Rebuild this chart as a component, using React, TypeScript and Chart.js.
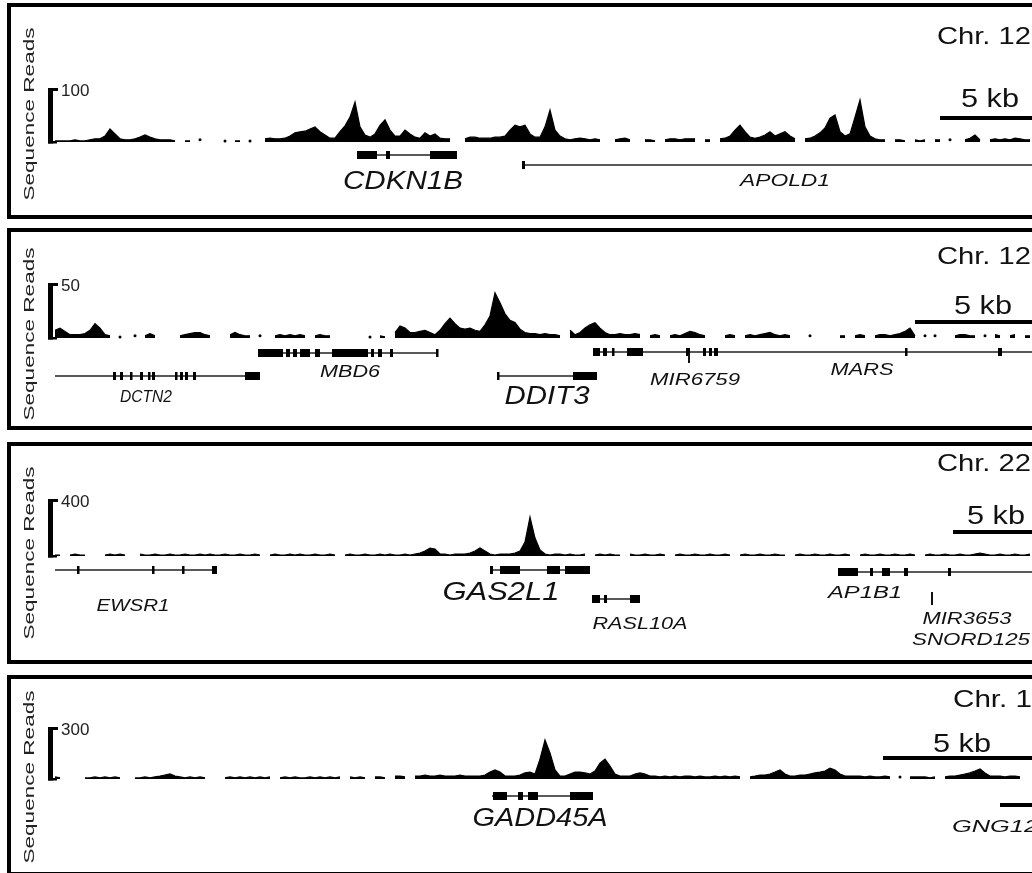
import React, { useEffect, useRef } from 'react';
import { Chart, registerables } from 'chart.js';
Chart.register(...registerables);

const FONT = '"Liberation Sans", Arial, Helvetica, sans-serif';
const PANEL_LEFT = 7;
const PANEL_WIDTH = 1100;
const BORDER = 4;
const PLOT_LEFT = 55; // page x of genomic position 0
const PLOT_RIGHT = 1055; // page x of genomic position POS_MAX
const POS_MAX = 200;

// ---------- coverage (sequence reads, one value per genomic bin) ----------
const COV_CDKN1B: (number | null)[] = [
  2, 2, 2, 2, 4, 2, 2, 4, 6, 6,
  11, 24, 15, 6, 4, 4, 6, 9, 13, 9,
  6, 4, 4, 4, 2, null, 2, 2, null, 4,
  null, null, null, null, 2, null, 2, 2, null, 2,
  null, null, 6, 7, 6, 6, 7, 11, 17, 19,
  20, 24, 28, 19, 13, 7, 7, 19, 30, 46,
  74, 28, 13, 9, 15, 31, 41, 22, 11, 11,
  22, 15, 9, 7, 17, 11, 15, 7, 6, 6,
  null, null, 6, 9, 9, 7, 7, 7, 9, 9,
  11, 22, 31, 28, 31, 15, 9, 9, 28, 59,
  22, 11, 6, 4, 6, 7, 6, 4, 6, 4,
  null, null, 4, 6, 7, 4, null, null, 4, 4,
  2, null, 4, 6, 6, 4, 6, 6, 6, null,
  4, 4, null, 6, 7, 11, 22, 31, 19, 9,
  7, 9, 13, 19, 11, 15, 19, 11, 6, null,
  6, 7, 11, 17, 26, 44, 50, 19, 11, 15,
  46, 78, 28, 11, 6, 4, 4, null, 4, 4,
  2, null, 4, 2, 4, null, 4, 4, null, 4,
  null, null, 4, 7, 13, 4, null, 4, 6, 4,
  6, 4, 7, 6, 4, 4,
];

const COV_DDIT3: (number | null)[] = [
  7, 9, 6, 3, 3, 3, 4, 7, 13, 9,
  3, 2, null, 1, null, null, 2, null, 2, 4,
  2, null, null, null, null, 2, 3, 4, 5, 5,
  3, 2, null, null, null, 3, 5, 3, 2, 2,
  null, 2, null, null, 2, 3, 2, 3, 2, 3,
  2, null, 2, 3, 2, 2, null, null, null, null,
  null, null, null, 1, null, 2, 1, null, 5, 11,
  9, 5, 5, 6, 7, 5, 3, 7, 13, 18,
  13, 9, 8, 9, 7, 6, 12, 20, 41, 32,
  22, 16, 14, 8, 5, 4, 4, 3, 4, 3,
  3, 2, null, 7, 3, 5, 9, 12, 14, 9,
  5, 3, 3, 4, 3, 3, 4, 3, null, 2,
  3, 2, null, 2, 3, 2, 4, 6, 5, 3,
  2, null, null, null, 2, 3, 2, null, 2, 3,
  2, 3, 4, 5, 3, 2, 3, 2, null, null,
  null, 2, null, null, null, null, null, 2, 2, null,
  2, 3, 2, null, 2, 3, 3, 2, 3, 4,
  6, 9, 2, null, 2, null, 2, null, null, null,
  2, 3, 3, 2, 2, null, 2, null, 3, 2,
  null, 2, 3, null, 2, 2,
];

const COV_GAS2L1: (number | null)[] = [
  7, 7, null, 7, 14, 7, 7, null, null, null,
  7, 14, 7, 14, 7, null, null, 14, 7, 7,
  14, 7, 7, 14, 7, 7, 14, 7, 7, 14,
  7, 14, 7, 7, 14, 7, 7, 14, 7, 7,
  14, 7, null, 7, 14, 7, 7, 14, 7, 14,
  7, 7, 14, 7, 7, 14, 7, null, 7, 14,
  7, 7, 14, 7, 7, 14, 7, 14, 7, 7,
  14, 7, 14, 21, 35, 56, 49, 14, 14, 7,
  14, 14, 14, 21, 35, 56, 35, 14, 7, 14,
  14, 14, 21, 35, 98, 273, 126, 42, 14, 7,
  14, 14, 7, 14, 7, 7, 14, null, 7, 14,
  7, 14, 7, 7, null, 14, 7, 7, 14, 7,
  7, 14, 7, null, 7, 14, 7, 7, 14, 7,
  7, 14, 7, 7, 14, 7, null, 7, 14, 7,
  7, 14, 7, 7, 14, 7, 7, null, 7, 14,
  7, 7, 14, 7, 7, 14, 7, 7, 14, 7,
  null, 7, 14, 7, 7, 14, 7, 7, 14, 7,
  7, 14, 7, null, 7, 14, 7, 7, 14, 7,
  7, 14, 7, 7, 14, 21, 14, 7, 7, 14,
  7, 7, 14, 7, 7, 14,
];

const COV_GADD45A: (number | null)[] = [
  12, 6, null, null, null, null, 6, 6, 12, 6,
  12, 6, 12, 6, null, null, 6, 6, 12, 6,
  12, 17, 23, 29, 17, 12, 6, 12, 6, 12,
  6, null, null, null, 6, 12, 6, 12, 6, 12,
  6, 12, 6, 12, null, 6, 12, 6, 12, 6,
  6, 12, 6, 12, 6, 12, 6, 12, null, 12,
  6, 12, 6, null, 12, 12, 6, null, 17, 17,
  12, null, 17, 17, 23, 17, 17, 23, 17, 17,
  17, 23, 17, 17, 17, 17, 23, 40, 52, 40,
  17, 17, 17, 23, 35, 40, 29, 115, 225, 150,
  52, 17, 17, 29, 40, 40, 35, 29, 46, 92,
  115, 75, 29, 17, 17, 17, 29, 35, 29, 17,
  17, 12, 17, 12, 17, 12, 17, 17, 12, 17,
  12, 12, 17, 12, 17, 12, 17, 12, null, 12,
  17, 23, 23, 29, 40, 52, 29, 17, 17, 23,
  23, 29, 35, 40, 46, 63, 52, 29, 17, 17,
  17, 17, 12, 17, 12, 12, 17, 12, null, 12,
  null, 12, 12, 12, 12, 6, 12, null, 12, 17,
  17, 23, 29, 35, 46, 58, 35, 17, 17, 17,
  12, 17, 17, 12, null, null,
];

// ---------- gene models (genomic positions, same units as coverage bins) ----------
type Gene = { name: string; start: number; end: number; exons: number[][]; tick?: boolean; thin?: boolean };

const GENES_CDKN1B: Gene[] = [
  { name: 'CDKN1B', start: 60.4, end: 80.4, exons: [[60.4, 64.4], [66.2, 67], [75, 80.4]] },
  { name: 'APOLD1', start: 93.6, end: 209, exons: [[93.4, 94]] },
];
const GENES_DDIT3: Gene[] = [
  { name: 'DCTN2', start: 0, end: 41, exons: [[11.6, 12.2], [13, 13.6], [15, 15.4], [17, 17.6], [18.6, 19], [19.4, 20], [24, 24.4], [25, 25.6], [26, 26.6], [27.6, 28.2], [38, 41]] },
  { name: 'MBD6', start: 40.6, end: 76.6, exons: [[40.6, 45.6], [46.2, 47], [47.6, 48.4], [49, 51], [52, 53], [55.4, 62.6], [63.2, 63.8], [64.6, 65.4], [67, 67.6], [76.2, 76.6]] },
  { name: 'DDIT3', start: 88.6, end: 108.4, exons: [[88.4, 88.8], [103.6, 108.4]] },
  { name: 'MARS', start: 107.6, end: 209, exons: [[107.6, 109], [109.6, 110.4], [111.4, 111.8], [114.4, 117.6], [126.2, 127], [129.6, 130.2], [130.8, 131.4], [131.8, 132.6], [170, 170.4], [188.6, 189.4]] },
  { name: 'MIR6759', start: 126.8, end: 126.8, exons: [], tick: true },
];
const GENES_GAS2L1: Gene[] = [
  { name: 'EWSR1', start: 0, end: 32.4, exons: [[4.4, 4.8], [19.4, 19.8], [25.4, 25.8], [31.4, 32.4]] },
  { name: 'GAS2L1', start: 87, end: 107, exons: [[87, 87.6], [89, 93], [98.4, 101], [102, 107]] },
  { name: 'RASL10A', start: 107.4, end: 117, exons: [[107.4, 109], [109.8, 110.4], [115, 117]] },
  { name: 'AP1B1', start: 156.6, end: 209, exons: [[156.6, 160.6], [163, 163.6], [165.4, 167], [169.8, 170.6], [178.6, 179.2]] },
  { name: 'MIR3653', start: 175.4, end: 175.4, exons: [], tick: true },
  { name: 'SNORD125', start: 175.4, end: 175.4, exons: [], tick: true },
];
const GENES_GADD45A: Gene[] = [
  { name: 'GADD45A', start: 87.4, end: 107.6, exons: [[87.6, 90.4], [92.6, 93.6], [94.6, 96.6], [103, 107.6]] },
  { name: 'GNG12', start: 189, end: 209, exons: [[189, 209]], thin: true },
];

// ---------- layout of gene rows / labels (px below baseline, label centre in positions) ----------
type GeneLayout = { row: number; row2?: number; labelDy: number; labelX: number; labelW: number; big?: boolean };
const LAYOUT_CDKN1B: Record<string, GeneLayout> = {
  CDKN1B: { row: 13, labelDy: 40, labelX: 69.6, labelW: 120, big: true },
  APOLD1: { row: 23, labelDy: 39, labelX: 146, labelW: 90 },
};
const LAYOUT_DDIT3: Record<string, GeneLayout> = {
  DCTN2: { row: 38, labelDy: 59, labelX: 18.2, labelW: 52 },
  MBD6: { row: 15, labelDy: 34, labelX: 59, labelW: 60 },
  DDIT3: { row: 38, labelDy: 59, labelX: 98.4, labelW: 85, big: true },
  MARS: { row: 14, labelDy: 32, labelX: 161.4, labelW: 63 },
  MIR6759: { row: 16, row2: 25, labelDy: 42, labelX: 128, labelW: 90 },
};
const LAYOUT_GAS2L1: Record<string, GeneLayout> = {
  EWSR1: { row: 14, labelDy: 50, labelX: 15.6, labelW: 73 },
  GAS2L1: { row: 14, labelDy: 37, labelX: 89.2, labelW: 117, big: true },
  RASL10A: { row: 43, labelDy: 68, labelX: 117, labelW: 95 },
  AP1B1: { row: 16, labelDy: 37, labelX: 162, labelW: 74 },
  MIR3653: { row: 36, row2: 49, labelDy: 63, labelX: 182.4, labelW: 89 },
  SNORD125: { row: 36, row2: 49, labelDy: 84, labelX: 183.2, labelW: 118 },
};
const LAYOUT_GADD45A: Record<string, GeneLayout> = {
  GADD45A: { row: 17, labelDy: 40, labelX: 97, labelW: 135, big: true },
  GNG12: { row: 26, labelDy: 48, labelX: 188, labelW: 86 },
};

// 5 kb scale bars (genomic positions)
const BAR_CDKN1B = [177, 197];
const BAR_DDIT3 = [172, 199.2];
const BAR_GAS2L1 = [179.6, 196.8];
const BAR_GADD45A = [165.6, 197.2];

type PanelCfg = {
  top: number; height: number; ymax: number; bracketTop: number; baseline: number;
  coverage: (number | null)[]; genes: Gene[]; layout: Record<string, GeneLayout>;
  chr: string; chrX: number; chrY: number; chrW: number;
  bar: number[]; barY: number; kbY: number; seqY: number;
};

const PANELS: PanelCfg[] = [
  { top: 3, height: 216, ymax: 100, bracketTop: 88, baseline: 142, coverage: COV_CDKN1B, genes: GENES_CDKN1B, layout: LAYOUT_CDKN1B, chr: 'Chr. 12', chrX: 937, chrY: 37, chrW: 94, bar: BAR_CDKN1B, barY: 118, kbY: 100, seqY: 114 },
  { top: 228, height: 202, ymax: 50, bracketTop: 283, baseline: 338, coverage: COV_DDIT3, genes: GENES_DDIT3, layout: LAYOUT_DDIT3, chr: 'Chr. 12', chrX: 937, chrY: 257, chrW: 94, bar: BAR_DDIT3, barY: 322, kbY: 307, seqY: 334 },
  { top: 442, height: 222, ymax: 400, bracketTop: 499, baseline: 556, coverage: COV_GAS2L1, genes: GENES_GAS2L1, layout: LAYOUT_GAS2L1, chr: 'Chr. 22', chrX: 937, chrY: 464, chrW: 94, bar: BAR_GAS2L1, barY: 532, kbY: 517, seqY: 553 },
  { top: 675, height: 201, ymax: 300, bracketTop: 727, baseline: 779, coverage: COV_GADD45A, genes: GENES_GADD45A, layout: LAYOUT_GADD45A, chr: 'Chr. 1', chrX: 953, chrY: 700, chrW: 79, bar: BAR_GADD45A, barY: 758, kbY: 745, seqY: 777 },
];

function drawText(
  ctx: CanvasRenderingContext2D, s: string, x: number, y: number, size: number,
  opts: { italic?: boolean; align?: CanvasTextAlign; width?: number; color?: string; rotate?: number } = {}
) {
  ctx.save();
  ctx.font = `${opts.italic ? 'italic ' : ''}${size}px ${FONT}`;
  ctx.fillStyle = opts.color || '#111';
  ctx.textBaseline = 'middle';
  ctx.textAlign = opts.align || 'left';
  const w = ctx.measureText(s).width;
  const sx = opts.width ? opts.width / w : 1;
  ctx.translate(x, y);
  if (opts.rotate) ctx.rotate(opts.rotate);
  ctx.scale(sx, 1);
  ctx.fillText(s, 0, 0);
  ctx.restore();
}

function makeTrackPlugin(p: PanelCfg) {
  return {
    id: 'trackDecor',
    afterDatasetsDraw(chart: any) {
      const ctx: CanvasRenderingContext2D = chart.ctx;
      const xs = chart.scales.x;
      const ys = chart.scales.y;
      const innerTop = p.top + BORDER;
      const innerLeft = PANEL_LEFT + BORDER;
      const cy = (py: number) => py - innerTop;
      const cx = (px: number) => px - innerLeft;
      const base = ys.getPixelForValue(0);
      const top = ys.getPixelForValue(p.ymax);
      const left = chart.chartArea.left;
      ctx.save();
      // scale bracket
      ctx.fillStyle = '#000';
      ctx.fillRect(left - 7, top, 5, base - top + 1.5);
      ctx.fillRect(left - 7, top, 10, 3);
      ctx.fillRect(left - 7, base - 1, 9, 2.5);
      drawText(ctx, String(p.ymax), left + 6, top + 3, 17, { color: '#222' });

      // gene models
      p.genes.forEach((g) => {
        const L = p.layout[g.name];
        const y = base + L.row;
        if (g.tick) {
          ctx.strokeStyle = '#111';
          ctx.lineWidth = 2;
          const x = xs.getPixelForValue(g.start);
          ctx.beginPath();
          ctx.moveTo(x, base + L.row);
          ctx.lineTo(x, base + (L.row2 ?? L.row + 8));
          ctx.stroke();
        } else {
          ctx.strokeStyle = '#222';
          ctx.lineWidth = 1.3;
          ctx.beginPath();
          ctx.moveTo(xs.getPixelForValue(g.start), y);
          ctx.lineTo(xs.getPixelForValue(g.end), y);
          ctx.stroke();
          ctx.fillStyle = '#000';
          const h = g.thin ? 4 : 8;
          g.exons.forEach(([s, e]) => {
            const x1 = xs.getPixelForValue(s);
            const x2 = xs.getPixelForValue(e);
            ctx.fillRect(x1, y - h / 2, Math.max(2.5, x2 - x1), h);
          });
        }
        drawText(ctx, g.name, xs.getPixelForValue(L.labelX), base + L.labelDy, L.big ? 25 : 17, {
          italic: true, align: 'center', width: L.labelW, color: '#111',
        });
      });

      // chromosome label
      drawText(ctx, p.chr, cx(p.chrX), cy(p.chrY), 24, { width: p.chrW, color: '#111' });
      // 5 kb scale bar
      const b1 = xs.getPixelForValue(p.bar[0]);
      const b2 = xs.getPixelForValue(p.bar[1]);
      ctx.fillStyle = '#000';
      ctx.fillRect(b1, cy(p.barY) - 2, b2 - b1, 4);
      drawText(ctx, '5 kb', (b1 + b2) / 2, cy(p.kbY), 26, { align: 'center', width: 58, color: '#111' });
      // y title
      drawText(ctx, 'Sequence Reads', cx(29.5), cy(p.seqY), 15, { align: 'center', width: 173, rotate: -Math.PI / 2, color: '#222' });
      ctx.restore();
    },
  };
}

function Panel({ p }: { p: PanelCfg }) {
  const ref = useRef<HTMLCanvasElement | null>(null);
  const W = PANEL_WIDTH - 2 * BORDER;
  const H = p.height - 2 * BORDER;
  useEffect(() => {
    if (!ref.current) return;
    const innerLeft = PANEL_LEFT + BORDER;
    const innerTop = p.top + BORDER;
    const vals = p.coverage;
    const data = vals.map((v, i) => ({ x: i, y: v }));
    const chart = new Chart(ref.current, {
      type: 'line',
      data: {
        datasets: [
          {
            data: data as any,
            fill: 'origin',
            backgroundColor: '#000',
            borderColor: '#000',
            borderWidth: 1.2,
            pointRadius: (c: any) => {
              const i = c.dataIndex;
              return vals[i] != null && vals[i - 1] == null && vals[i + 1] == null ? 1.5 : 0;
            },
            pointBackgroundColor: '#000',
            pointBorderWidth: 0,
            tension: 0,
            spanGaps: false,
            clip: false as any,
          },
        ],
      },
      options: {
        animation: false,
        responsive: false,
        devicePixelRatio: 1,
        events: [],
        layout: {
          padding: {
            left: PLOT_LEFT - innerLeft,
            right: innerLeft + W - PLOT_RIGHT,
            top: p.bracketTop - innerTop,
            bottom: innerTop + H - p.baseline,
          },
        },
        scales: {
          x: { type: 'linear', min: 0, max: POS_MAX, display: false },
          y: { type: 'linear', min: 0, max: p.ymax, display: false },
        },
        plugins: { legend: { display: false }, tooltip: { enabled: false }, title: { display: false } },
      },
      plugins: [makeTrackPlugin(p)],
    });
    return () => chart.destroy();
  }, [p]);
  return (
    <div
      style={{
        position: 'absolute', left: PANEL_LEFT, top: p.top, width: PANEL_WIDTH, height: p.height,
        border: `${BORDER}px solid #000`, boxSizing: 'border-box', background: '#fff',
      }}
    >
      <canvas ref={ref} width={W} height={H} style={{ display: 'block', width: W, height: H }} />
    </div>
  );
}

export default function App() {
  return (
    <div style={{ position: 'fixed', left: 0, top: 0, width: 1032, height: 873, overflow: 'hidden', background: '#fff' }}>
      {PANELS.map((p, i) => (
        <Panel key={i} p={p} />
      ))}
    </div>
  );
}
